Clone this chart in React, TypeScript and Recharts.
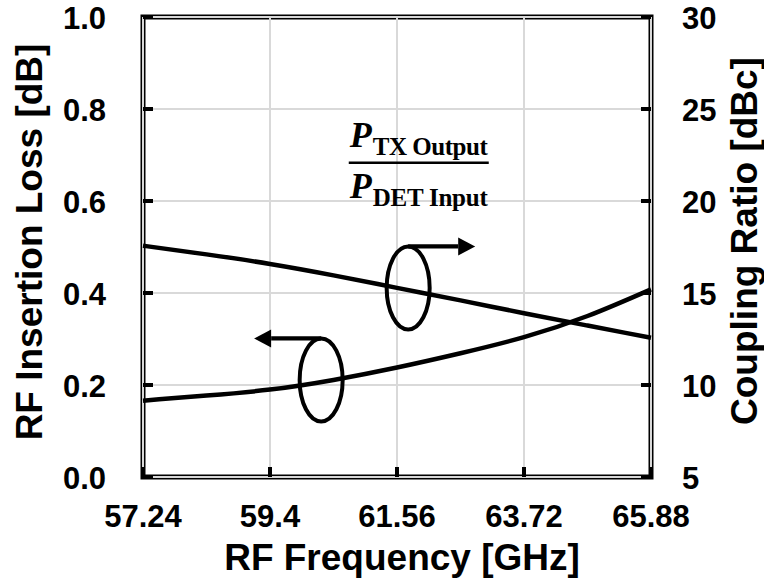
import { ComposedChart, Line, XAxis, YAxis, ReferenceLine, ReferenceArea, ReferenceDot } from 'recharts'

// RF frequency sweep (GHz)
const freqs = [57.24, 58.32, 59.4, 60.48, 61.56, 62.64, 63.72, 64.8, 65.88]
// left axis, dB
const insertionLoss = [0.166, 0.177, 0.19, 0.211, 0.238, 0.269, 0.304, 0.35, 0.408]
// right axis, dBc
const couplingRatio = [17.57, 17.1, 16.58, 15.96, 15.28, 14.6, 13.9, 13.23, 12.57]

const xTicks = [57.24, 59.4, 61.56, 63.72, 65.88]
const lossTicks = [0, 0.2, 0.4, 0.6, 0.8, 1.0]
const couplingTicks = [5, 10, 15, 20, 25, 30]

const data = freqs.map((f, i) => ({ freq: f, loss: insertionLoss[i], coupling: couplingRatio[i] }))

const SANS = '"Liberation Sans", Arial, sans-serif'
const SERIF = '"Liberation Serif", "Times New Roman", serif'
const TICK_FONT = 31
const TITLE_FONT = 37
const GRID = '#d9d9d9'

function XTick({ x, y, payload }: any) {
  return (
    <g>
      <line x1={x} x2={x} y1={y} y2={y - 10} stroke="#000" strokeWidth={4} />
      <text x={x} y={y + 50} textAnchor="middle" fontFamily={SANS} fontWeight="bold" fontSize={TICK_FONT} fill="#000">
        {String(payload.value)}
      </text>
    </g>
  )
}

function LeftTick({ x, y, payload }: any) {
  return (
    <g>
      <line x1={x} x2={x + 10} y1={y} y2={y} stroke="#000" strokeWidth={4} />
      <text x={x - 37} y={y + 12} textAnchor="end" fontFamily={SANS} fontWeight="bold" fontSize={TICK_FONT} fill="#000">
        {Number(payload.value).toFixed(1)}
      </text>
    </g>
  )
}

function RightTick({ x, y, payload }: any) {
  return (
    <g>
      <line x1={x} x2={x - 10} y1={y} y2={y} stroke="#000" strokeWidth={4} />
      <text x={x + 31} y={y + 12} textAnchor="start" fontFamily={SANS} fontWeight="bold" fontSize={TICK_FONT} fill="#000">
        {String(payload.value)}
      </text>
    </g>
  )
}

// ellipse around a curve with an arrow pointing at its axis
function AxisLoop({ cx, cy, dir }: { cx: number; cy: number; dir: 'left' | 'right' }) {
  const rx = 21.5
  const ry = 41.5
  const top = cy - ry
  const s = dir === 'right' ? 1 : -1
  const tip = cx + s * 67
  const base = cx + s * 50
  return (
    <g>
      <ellipse cx={cx} cy={cy} rx={rx} ry={ry} fill="none" stroke="#000" strokeWidth={4} />
      <line x1={cx} x2={base} y1={top} y2={top} stroke="#000" strokeWidth={4.3} />
      <polygon points={`${base},${top - 9} ${tip},${top} ${base},${top + 9}`} fill="#000" />
    </g>
  )
}

function RatioLabel({ cx, cy }: { cx: number; cy: number }) {
  return (
    <g fontFamily={SERIF} fontWeight="bold" fill="#000">
      <text x={cx - 69} y={cy - 16} fontSize={36} fontStyle="italic">P</text>
      <text x={cx - 46} y={cy - 8} fontSize={25} textLength={115} lengthAdjust="spacing">TX Output</text>
      <line x1={cx - 70} x2={cx + 70} y1={cy} y2={cy} stroke="#000" strokeWidth={2.5} />
      <text x={cx - 69} y={cy + 35} fontSize={36} fontStyle="italic">P</text>
      <text x={cx - 46} y={cy + 43} fontSize={25} textLength={115} lengthAdjust="spacing">DET Input</text>
    </g>
  )
}

export default function App() {
  return (
    <div style={{ position: 'absolute', left: 0, top: 0, background: '#fff' }}>
      <ComposedChart width={764} height={578} data={data} margin={{ top: 17, right: 0, bottom: 0, left: 0 }}>
        <XAxis
          dataKey="freq"
          type="number"
          domain={[57.24, 65.88]}
          ticks={xTicks}
          interval={0}
          height={101}
          axisLine={false}
          tickLine={false}
          tickSize={0}
          tickMargin={0}
          tick={<XTick />}
          label={(p: any) => {
            const vb = p.viewBox || { x: 143, y: 477, width: 508 }
            return (
              <text x={vb.x + vb.width / 2 + 5} y={vb.y + 93} textAnchor="middle" fontFamily={SANS} fontWeight="bold" fontSize={TITLE_FONT} fill="#000">
                RF Frequency [GHz]
              </text>
            )
          }}
        />
        <YAxis
          yAxisId="left"
          domain={[0, 1]}
          ticks={lossTicks}
          interval={0}
          width={143}
          axisLine={false}
          tickLine={false}
          tickSize={0}
          tickMargin={0}
          tick={<LeftTick />}
          label={(p: any) => {
            const vb = p.viewBox || { x: 0, y: 17, height: 460 }
            const tx = vb.x + 42
            const ty = vb.y + vb.height / 2 - 5
            return (
              <text x={tx} y={ty} transform={`rotate(-90, ${tx}, ${ty})`} textAnchor="middle" fontFamily={SANS} fontWeight="bold" fontSize={TITLE_FONT} fill="#000">
                RF Insertion Loss [dB]
              </text>
            )
          }}
        />
        <YAxis
          yAxisId="right"
          orientation="right"
          domain={[5, 30]}
          ticks={couplingTicks}
          interval={0}
          width={113}
          axisLine={false}
          tickLine={false}
          tickSize={0}
          tickMargin={0}
          tick={<RightTick />}
          label={(p: any) => {
            const vb = p.viewBox || { x: 651, y: 17, height: 460 }
            const tx = vb.x + 106
            const ty = vb.y + vb.height / 2 - 6
            return (
              <text x={tx} y={ty} transform={`rotate(-90, ${tx}, ${ty})`} textAnchor="middle" fontFamily={SANS} fontWeight="bold" fontSize={TITLE_FONT} fill="#000">
                Coupling Ratio [dBc]
              </text>
            )
          }}
        />
        {xTicks.map((t) => (
          <ReferenceLine key={`gx${t}`} yAxisId="left" x={t} stroke={GRID} strokeWidth={2} />
        ))}
        {lossTicks.map((t) => (
          <ReferenceLine key={`gy${t}`} yAxisId="left" y={t} stroke={GRID} strokeWidth={2} />
        ))}
        <Line yAxisId="left" type="natural" dataKey="loss" stroke="#000" strokeWidth={4.5} dot={false} isAnimationActive={false} />
        <Line yAxisId="right" type="natural" dataKey="coupling" stroke="#000" strokeWidth={4.5} dot={false} isAnimationActive={false} />
        <ReferenceArea yAxisId="left" x1={57.24} x2={65.88} y1={0} y2={1} fill="none" fillOpacity={0} stroke="#000" strokeWidth={5} />
        <ReferenceDot yAxisId="left" x={61.75} y={0.411} r={0} shape={(p: any) => <AxisLoop cx={p.cx} cy={p.cy} dir="right" />} />
        <ReferenceDot yAxisId="left" x={60.27} y={0.211} r={0} shape={(p: any) => <AxisLoop cx={p.cx} cy={p.cy} dir="left" />} />
        <ReferenceDot yAxisId="left" x={61.93} y={0.683} r={0} shape={(p: any) => <RatioLabel cx={p.cx} cy={p.cy} />} />
      </ComposedChart>
    </div>
  )
}
